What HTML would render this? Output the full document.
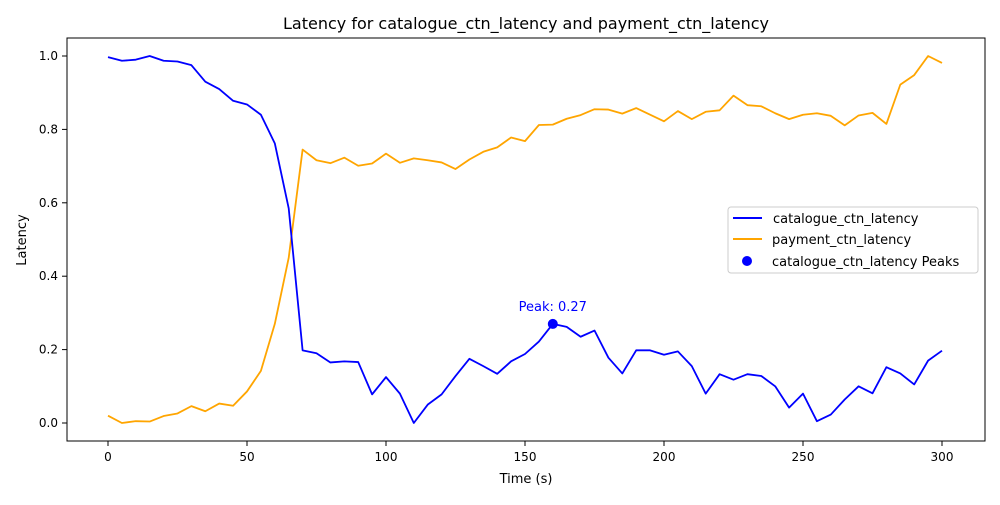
<!DOCTYPE html>
<html><head><meta charset="utf-8"><style>
body{margin:0;background:#fff}
svg text{font-family:"DejaVu Sans","Liberation Sans",sans-serif}
</style></head><body>
<svg width="1000" height="500" id="chart">
<rect x="0" y="0" width="1000" height="500" fill="#fff"/>
<text x="526" y="29" font-size="16" text-anchor="middle">Latency for catalogue_ctn_latency and payment_ctn_latency</text>
<g id="plot"></g>
<rect x="67" y="38" width="918" height="403" fill="none" stroke="#000" stroke-width="1"/>
<text x="526" y="483" font-size="13" text-anchor="middle">Time (s)</text>
<text x="26" y="240" font-size="13" text-anchor="middle" transform="rotate(-90 26 240)">Latency</text>
<g>
<rect x="728" y="207" width="250" height="66" rx="3" fill="#fff" fill-opacity="0.8" stroke="#ccc"/>
<line x1="733" y1="218" x2="762" y2="218" stroke="blue" stroke-width="2"/>
<text x="773" y="223" font-size="13">catalogue_ctn_latency</text>
<line x1="733" y1="239" x2="762" y2="239" stroke="orange" stroke-width="2"/>
<text x="772" y="244" font-size="13">payment_ctn_latency</text>
<circle cx="747" cy="261" r="5" fill="blue"/>
<text x="772" y="266" font-size="13">catalogue_ctn_latency Peaks</text>
</g>
</svg>
<script>
const times=[0,5,10,15,20,25,30,35,40,45,50,55,60,65,70,75,80,85,90,95,100,105,110,115,120,125,130,135,140,145,150,155,160,165,170,175,180,185,190,195,200,205,210,215,220,225,230,235,240,245,250,255,260,265,270,275,280,285,290,295,300];
const catalogue=[0.997,0.987,0.990,1.0,0.987,0.985,0.975,0.93,0.91,0.878,0.868,0.84,0.762,0.585,0.198,0.19,0.165,0.168,0.166,0.078,0.125,0.08,0.0,0.05,0.078,0.128,0.175,0.155,0.134,0.168,0.188,0.222,0.27,0.262,0.235,0.252,0.178,0.135,0.198,0.198,0.186,0.195,0.155,0.08,0.133,0.118,0.133,0.128,0.1,0.042,0.08,0.005,0.023,0.064,0.1,0.081,0.152,0.135,0.105,0.17,0.197];
const payment=[0.02,0.0,0.005,0.004,0.019,0.026,0.046,0.032,0.053,0.047,0.086,0.142,0.27,0.45,0.745,0.716,0.708,0.723,0.701,0.707,0.734,0.709,0.721,0.716,0.71,0.692,0.718,0.739,0.751,0.778,0.768,0.812,0.813,0.829,0.839,0.855,0.854,0.843,0.858,0.84,0.822,0.85,0.828,0.848,0.852,0.892,0.866,0.863,0.844,0.828,0.84,0.844,0.837,0.811,0.838,0.845,0.815,0.922,0.948,1.0,0.981];
const xTicks=[0,50,100,150,200,250,300];
const yTicks=[0.0,0.2,0.4,0.6,0.8,1.0];
const peakTime=160, peakValue=0.27;
const NS="http://www.w3.org/2000/svg";
const X=v=>108+v*(942-108)/300;
const Y=v=>423-v*(423-56);
const g=document.getElementById('plot');
function mk(t,a){const e=document.createElementNS(NS,t);for(const k in a)e.setAttribute(k,a[k]);g.appendChild(e);return e;}
xTicks.forEach(t=>{
 const l=mk('line',{x1:X(t),x2:X(t),y1:441,y2:446,stroke:'#000'});
 
 
 const tx=mk('text',{x:X(t),y:461,'font-size':12,'text-anchor':'middle'});tx.textContent=t;
 
 
});
yTicks.forEach(t=>{
 const l=mk('line',{x1:62,x2:67,y1:Y(t),y2:Y(t),stroke:'#000'});
 
 
 const tx=mk('text',{x:58,y:Y(t)+4,'font-size':12,'text-anchor':'end'});tx.textContent=t.toFixed(1);
 
 
});
function line(vals,color,name){
 const p=mk('polyline',{points:vals.map((v,i)=>X(times[i])+','+Y(v)).join(' '),fill:'none',stroke:color,'stroke-width':1.8,'stroke-linejoin':'round'});
 
 
}
line(payment,'orange','payment-line');
line(catalogue,'blue','catalogue-line');
const c=mk('circle',{cx:X(peakTime),cy:Y(peakValue),r:5,fill:'blue'});


const pt=mk('text',{x:X(peakTime),y:Y(peakValue)-13,'font-size':13,'text-anchor':'middle',fill:'blue'});
pt.textContent='Peak: '+peakValue.toFixed(2);


</script>
</body></html>
